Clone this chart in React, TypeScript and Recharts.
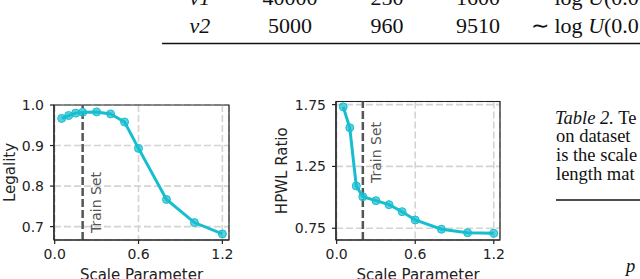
import React from 'react';
import {
  LineChart,
  Line,
  XAxis,
  YAxis,
  CartesianGrid,
  ReferenceLine,
  ReferenceArea,
} from 'recharts';

// ---------- data ----------
const scaleParams = [0.05, 0.1, 0.15, 0.2, 0.3, 0.4, 0.5, 0.6, 0.8, 1.0, 1.2];
const legality = [0.967, 0.974, 0.98, 0.982, 0.983, 0.978, 0.958, 0.893, 0.767, 0.71, 0.682];
const hpwlRatio = [1.732, 1.563, 1.092, 1.005, 0.973, 0.941, 0.884, 0.817, 0.742, 0.714, 0.709];

const scaleTicks = [0, 0.6, 1.2];
const legalityTicks = [0.7, 0.8, 0.9, 1.0];
const hpwlTicks = [0.75, 1.25, 1.75];
const trainScale = 0.2;

const tableRowV1 = ['v1', '40000', '250', '1600'];
const tableRowV2 = ['v2', '5000', '960', '9510'];
const captionLines = ['on dataset', 'is the scale', 'length mat'];

// ---------- styles ----------
const SANS = 'DejaVu Sans';
const SERIF = 'Liberation Serif';
const CYAN = '#17becf';
const AXIS = '#222';
const X_DOMAIN: [number, number] = [-0.005, 1.2475];

type PanelProps = {
  left: number;
  top: number;
  width: number;
  height: number;
  margin: { top: number; right: number; bottom: number; left: number };
  yAxisWidth: number;
  values: number[];
  yDomain: [number, number];
  yTicks: number[];
  yFmt: (v: number) => string;
  yLabel: string;
  yLabelX: number;
  trainLabelBottom: number;
};

function Panel(p: PanelProps) {
  const data = scaleParams.map((x, i) => ({ x, y: p.values[i] }));
  const plotTop = p.margin.top;
  const plotH = p.height - p.margin.top - p.margin.bottom - 39;
  const plotLeft = p.margin.left + p.yAxisWidth;
  const plotW = p.width - plotLeft - p.margin.right;
  return (
    <div style={{ position: 'absolute', left: p.left, top: p.top }}>
      <LineChart width={p.width} height={p.height} data={data} margin={p.margin}>
        <CartesianGrid stroke="#d4d4d4" strokeDasharray="7 3" strokeWidth={1.6} />
        <XAxis
          dataKey="x"
          type="number"
          domain={X_DOMAIN}
          ticks={scaleTicks}
          allowDataOverflow
          tickFormatter={(v: number) => v.toFixed(1)}
          height={39}
          tickSize={4}
          tickMargin={5}
          interval={0}
          stroke={AXIS}
          axisLine={{ stroke: AXIS, strokeWidth: 1.2 }}
          tickLine={{ stroke: AXIS, strokeWidth: 1.2 }}
          tick={{ fill: AXIS, fontSize: 14, fontFamily: SANS }}
          label={{
            content: () => (
              <text
                x={plotLeft + plotW / 2}
                y={plotTop + plotH + 40}
                textAnchor="middle"
                fontSize={15}
                fontFamily={SANS}
                fill={AXIS}
              >
                Scale Parameter
              </text>
            ),
          }}
        />
        <YAxis
          type="number"
          domain={p.yDomain}
          ticks={p.yTicks}
          allowDataOverflow
          tickFormatter={p.yFmt}
          width={p.yAxisWidth}
          tickSize={4}
          tickMargin={6}
          interval={0}
          stroke={AXIS}
          axisLine={{ stroke: AXIS, strokeWidth: 1.2 }}
          tickLine={{ stroke: AXIS, strokeWidth: 1.2 }}
          tick={{ fill: AXIS, fontSize: 14, fontFamily: SANS }}
          label={{
            content: () => (
              <text
                x={p.yLabelX}
                y={plotTop + plotH / 2}
                transform={`rotate(-90, ${p.yLabelX}, ${plotTop + plotH / 2})`}
                textAnchor="middle"
                dominantBaseline="central"
                fontSize={15}
                fontFamily={SANS}
                fill={AXIS}
              >
                {p.yLabel}
              </text>
            ),
          }}
        />
        <ReferenceArea
          x1={X_DOMAIN[0]}
          x2={X_DOMAIN[1]}
          y1={p.yDomain[0]}
          y2={p.yDomain[1]}
          fill="none"
          fillOpacity={0}
          stroke={AXIS}
          strokeWidth={1.2}
          ifOverflow="visible"
        />
        <ReferenceLine
          x={trainScale}
          stroke="#555"
          strokeWidth={2.5}
          strokeDasharray="8 3"
          ifOverflow="visible"
          label={{
            content: (lp: any) => {
              const vb = lp && lp.viewBox ? lp.viewBox : { x: plotLeft, y: plotTop };
              const tx = vb.x + 13;
              const ty = plotTop + p.trainLabelBottom;
              return (
                <text
                  x={tx}
                  y={ty}
                  transform={`rotate(-90, ${tx}, ${ty})`}
                  textAnchor="start"
                  dominantBaseline="central"
                  fontSize={14}
                  fontFamily={SANS}
                  fill="#555"
                >
                  Train Set
                </text>
              );
            },
          }}
        />
        <Line
          type="linear"
          dataKey="y"
          stroke={CYAN}
          strokeWidth={3}
          dot={{ r: 4, fill: CYAN, fillOpacity: 0.7, stroke: CYAN, strokeWidth: 1 }}
          activeDot={false}
          isAnimationActive={false}
        />
      </LineChart>
    </div>
  );
}

const colCenters = [200, 290, 387, 478];

function Overlay() {
  const row = (cells: string[], y: number) => (
    <g>
      {cells.map((c, i) => (
        <text
          key={i}
          x={colCenters[i]}
          y={y}
          textAnchor="middle"
          fontStyle={i === 0 ? 'italic' : 'normal'}
        >
          {c}
        </text>
      ))}
      <text x={531} y={y}>
        ∼ log <tspan fontStyle="italic">U</tspan>(0.0
      </text>
    </g>
  );
  return (
    <svg
      width={640}
      height={279}
      style={{ position: 'absolute', left: 0, top: 0 }}
      fontFamily={SERIF}
      fill="#111"
    >
      <g fontSize={22}>
        {row(tableRowV1, 5)}
        {row(tableRowV2, 32.5)}
      </g>
      <line x1={162} x2={640} y1={43.5} y2={43.5} stroke="#111" strokeWidth={1.6} />
      <g fontSize={18.5}>
        <text x={555} y={123.5}>
          <tspan fontStyle="italic">Table 2.</tspan> Te
        </text>
        {captionLines.map((t, i) => (
          <text key={i} x={556} y={142.2 + i * 18.7}>
            {t}
          </text>
        ))}
        <line x1={556} x2={640} y1={200} y2={200} stroke="#111" strokeWidth={1.6} />
        <text x={626} y={272} fontStyle="italic">
          p
        </text>
      </g>
    </svg>
  );
}

export default function App() {
  return (
    <div
      style={{
        position: 'absolute',
        left: 0,
        top: 0,
        width: 640,
        height: 279,
        overflow: 'hidden',
        background: '#fff',
      }}
    >
      <Overlay />
      <Panel
        left={0}
        top={90}
        width={240}
        height={189}
        margin={{ top: 15, right: 11, bottom: 0, left: 0 }}
        yAxisWidth={54}
        values={legality}
        yDomain={[0.667, 1.0]}
        yTicks={legalityTicks}
        yFmt={(v) => v.toFixed(1)}
        yLabel="Legality"
        yLabelX={10}
        trainLabelBottom={128}
      />
      <Panel
        left={240}
        top={90}
        width={270}
        height={189}
        margin={{ top: 11.5, right: 10, bottom: 0, left: 0 }}
        yAxisWidth={96}
        values={hpwlRatio}
        yDomain={[0.655, 1.775]}
        yTicks={hpwlTicks}
        yFmt={(v) => v.toFixed(2)}
        yLabel="HPWL Ratio"
        yLabelX={42}
        trainLabelBottom={81.5}
      />
    </div>
  );
}
